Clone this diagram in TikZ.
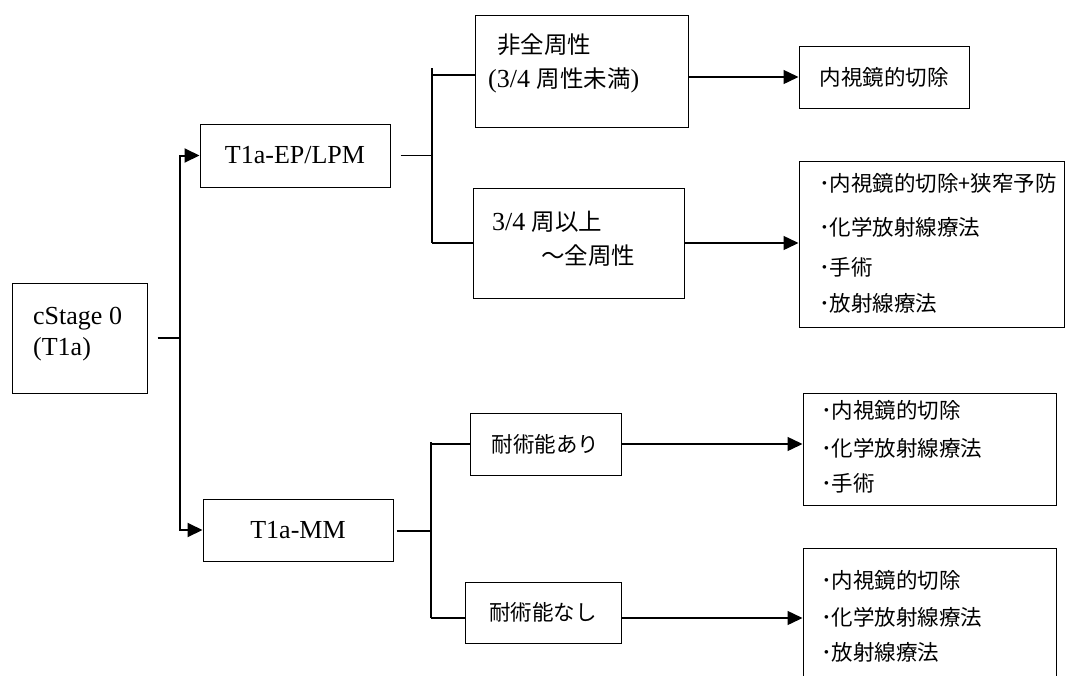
\documentclass[tikz,border=0pt]{standalone}
\usepackage{fontspec}
\setmainfont{Liberation Serif}
\newfontfamily\jp{Noto Sans CJK JP}
\usetikzlibrary{arrows.meta}
\tikzset{
  boxnode/.style={draw, line width=1pt, inner sep=0pt},
  lat/.style={font=\fontsize{26}{30}\selectfont},
  cjk/.style={font=\fontsize{21.5}{26}\selectfont\jp},
  txt/.style={inner sep=0pt},
  thk/.style={line width=2pt},
  thn/.style={line width=1.4pt},
  arr/.style={-{Triangle[length=15pt,width=14pt]}},
}
\newcommand{\LT}[1]{{\fontsize{26}{30}\selectfont #1}}
\newcommand{\JB}[1]{{\jp\fontsize{23.5}{28}\selectfont #1}}
\newcommand{\JS}[1]{{\jp\fontsize{21.5}{26}\selectfont #1}}
\begin{document}
\begin{tikzpicture}[x=1pt,y=-1pt]
\useasboundingbox (0,0) rectangle (1066,675);
% boxes
\node[boxnode, minimum width=135, minimum height=110] (stage) at (79.5,338) {};
\node[txt, lat, anchor=base west] (stageA) at (33,324) {cStage 0};
\node[txt, lat, anchor=base west] (stageB) at (33,355) {(T1a)};
\node[boxnode, lat, minimum width=190, minimum height=63] (ep) at (295,155.5) {T1a-EP/LPM};
\node[boxnode, lat, minimum width=190, minimum height=62] (mm) at (298,530) {T1a-MM};
\node[boxnode, minimum width=213, minimum height=112] (b1) at (581.5,71) {};
\node[txt, anchor=base west] (b1A) at (497,53.5) {\JB{非全周性}};
\node[txt, anchor=base west] (b1B) at (488,87) {\LT{(3/4 }\JB{周性未満}\LT{)}};
\node[boxnode, minimum width=211, minimum height=110] (b2) at (578.5,243) {};
\node[txt, anchor=base west] (b2A) at (492,230) {\LT{3/4 }\JB{周以上}};
\node[txt, anchor=base west] (b2B) at (541,264) {\JB{〜全周性}};
\node[boxnode, cjk, minimum width=151, minimum height=62] (b3) at (545.5,444) {耐術能あり};
\node[boxnode, cjk, minimum width=156, minimum height=61] (b4) at (543,612.5) {耐術能なし};
\node[boxnode, cjk, minimum width=170, minimum height=62] (r1) at (884,77) {内視鏡的切除};
\node[boxnode, minimum width=265, minimum height=166] (r2) at (931.5,244) {};
\node[txt, cjk, anchor=west] (r2A) at (819,183) {･内視鏡的切除+狭窄予防};
\node[txt, cjk, anchor=west] (r2B) at (819,227) {･化学放射線療法};
\node[txt, cjk, anchor=west] (r2C) at (819,267) {･手術};
\node[txt, cjk, anchor=west] (r2D) at (819,303) {･放射線療法};
\node[boxnode, minimum width=253, minimum height=112] (r3) at (929.5,449) {};
\node[txt, cjk, anchor=west] (r3A) at (821,410) {･内視鏡的切除};
\node[txt, cjk, anchor=west] (r3B) at (821,448) {･化学放射線療法};
\node[txt, cjk, anchor=west] (r3C) at (821,483) {･手術};
\node[boxnode, minimum width=253, minimum height=152] (r4) at (929.5,624) {};
\node[txt, cjk, anchor=west] (r4A) at (821,580) {･内視鏡的切除};
\node[txt, cjk, anchor=west] (r4B) at (821,617) {･化学放射線療法};
\node[txt, cjk, anchor=west] (r4C) at (821,652) {･放射線療法};
% connectors: stage
\coordinate (j0) at (180,338);
\draw[thk] ([xshift=10pt]stage.east) -- (j0);
\draw[thk, arr] (j0) |- (ep.west);
\draw[thk, arr] (j0) |- (mm.west);
% junction 1
\coordinate (j1) at (432,155.5);
\coordinate (j1t) at (432,68);
\coordinate (j1a) at (432,75);
\draw[thn] ([xshift=10pt]ep.east) -- (j1);
\draw[thk] (j1t) -- (j1 |- b2.west);
\draw[thn] (j1a) -- (j1a -| b1.west);
\draw[thn] (j1 |- b2.west) -- (b2.west);
\draw[thn, arr] (b1.east |- r1.west) -- (r1.west);
\draw[thn, arr] (b2.east) -- (b2.east -| r2.west);
% junction 2
\coordinate (j2) at (431,531);
\coordinate (j2t) at (431,442);
\coordinate (j2a) at (431,444);
\coordinate (j2b) at (431,618);
\draw[line width=2.5pt] ([xshift=3pt]mm.east |- j2) -- (j2);
\draw[thk] (j2t) -- (j2b);
\draw[thn] (j2a) -- (j2a -| b3.west);
\draw[thn] (j2b) -- (j2b -| b4.west);
\draw[thn, arr] (b3.east) -- (b3.east -| r3.west);
\draw[thn, arr] (j2b -| b4.east) -- (j2b -| r4.west);
\end{tikzpicture}
\end{document}
